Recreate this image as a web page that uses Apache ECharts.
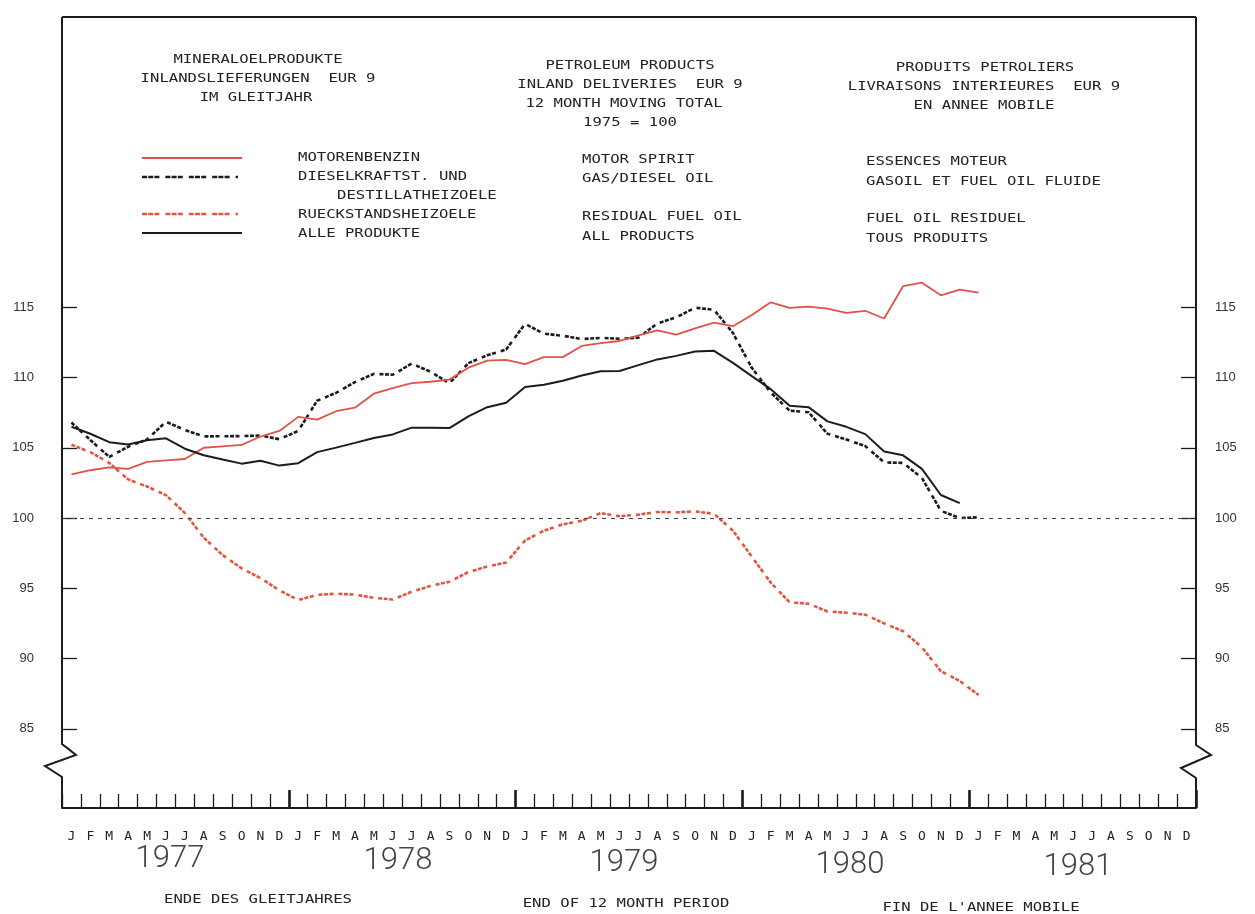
<!DOCTYPE html>
<html><head><meta charset="utf-8">
<script src="https://cdn.jsdelivr.net/npm/echarts@6/dist/echarts.min.js"></script>
<style>html,body{margin:0;padding:0;background:#fff}#c{width:1255px;height:914px}</style>
</head><body><div id="c"></div>
<script>
// ---- data (index 100 = 1975), monthly, 12-month moving totals, EUR 9 ----
const monthLetters = ['J','F','M','A','M','J','J','A','S','O','N','D'];
const years = [1977, 1978, 1979, 1980, 1981];
const yTicks = [85, 90, 95, 100, 105, 110, 115];

// Motorenbenzin / Motor spirit / Essences moteur  (Jan 1977 - Jan 1981)
const motorSpirit = [103.1, 103.4, 103.6, 103.5, 104.0, 104.1, 104.2, 105.0, 105.1, 105.2, 105.8, 106.2,
  107.2, 107.0, 107.6, 107.85, 108.85, 109.25, 109.6, 109.7, 109.85, 110.7, 111.2, 111.25,
  110.95, 111.45, 111.45, 112.25, 112.45, 112.6, 113.0, 113.35, 113.05, 113.5, 113.9, 113.65,
  114.45, 115.35, 114.95, 115.05, 114.9, 114.6, 114.75, 114.2, 116.5, 116.75, 115.85, 116.25,
  116.05];
// Dieselkraftst. und Destillatheizoele / Gas/diesel oil
const gasDieselOil = [106.8, 105.55, 104.35, 105.07, 105.59, 106.85, 106.27, 105.81, 105.82, 105.83, 105.87, 105.61,
  106.2, 108.35, 108.91, 109.67, 110.26, 110.2, 110.99, 110.41, 109.59, 111.02, 111.58, 111.99,
  113.82, 113.12, 112.97, 112.74, 112.82, 112.76, 112.84, 113.85, 114.28, 114.97, 114.82, 113.17,
  110.69, 108.93, 107.64, 107.53, 106.0, 105.59, 105.12, 103.96, 103.92, 102.86, 100.51, 100.0,
  100.05];
// Rueckstandsheizoele / Residual fuel oil
const residualFuelOil = [105.22, 104.69, 103.92, 102.75, 102.24, 101.63, 100.36, 98.6, 97.36, 96.42, 95.72, 94.86,
  94.16, 94.53, 94.61, 94.55, 94.32, 94.2, 94.75, 95.17, 95.47, 96.15, 96.55, 96.83,
  98.4, 99.1, 99.55, 99.8, 100.35, 100.13, 100.24, 100.43, 100.4, 100.47, 100.3, 99.1,
  97.25, 95.4, 94.0, 93.9, 93.35, 93.26, 93.12, 92.5, 91.94, 90.8, 89.1, 88.4,
  87.4];
// Alle Produkte / All products
const allProducts = [106.5, 106.0, 105.4, 105.23, 105.54, 105.67, 104.93, 104.47, 104.16, 103.87, 104.07, 103.73,
  103.9, 104.69, 105.01, 105.35, 105.7, 105.95, 106.43, 106.42, 106.4, 107.24, 107.89, 108.21,
  109.33, 109.48, 109.77, 110.14, 110.45, 110.46, 110.88, 111.29, 111.54, 111.85, 111.9, 111.04,
  110.1, 109.17, 107.99, 107.89, 106.88, 106.49, 105.97, 104.74, 104.46, 103.5, 101.64, 101.06];

const categories = [];
years.forEach(y => monthLetters.forEach((m, i) => categories.push(y + '-' + (i + 1))));

const RED = '#e0524a', RED2 = '#e2553f', BLK = '#1c1c1c';
const DASH = [4, 1.5, 4, 1.5, 4, 5];
const LDASH = [5, 1.2, 5, 1.2, 5, 6];
const MONO = '"DejaVu Sans Mono", monospace';

function txt(str, x, y, align) {
  return { type: 'text', x: x, y: y, scaleX: 1.2, z: 20,
    style: { text: str, fontFamily: MONO, fontSize: 13, fill: '#222',
      align: align, verticalAlign: 'middle', textAlign: align, textVerticalAlign: 'middle' } };
}
function year(str, x, y) {
  return { type: 'text', x: x, y: y, z: 20,
    style: { text: str, fontFamily: 'Roboto, "DejaVu Sans", sans-serif', fontWeight: 300, fontSize: 31, fill: '#444',
      align: 'center', verticalAlign: 'middle', textAlign: 'center', textVerticalAlign: 'middle' } };
}
function seg(x1, y1, x2, y2, color, w, dash) {
  return { type: 'line', z: 20, shape: { x1: x1, y1: y1, x2: x2, y2: y2 },
    style: { stroke: color, lineWidth: w, lineDash: dash || null } };
}
function poly(pts) {
  return { type: 'polyline', z: 20, shape: { points: pts }, style: { stroke: BLK, lineWidth: 2, fill: null } };
}

const graphics = [
  // frame with axis breaks
  poly([[62, 17], [1196, 17]]),
  poly([[62, 17], [62, 744], [76, 755], [45, 766], [62, 777], [62, 808]]),
  poly([[1196, 17], [1196, 745], [1211, 755], [1181, 768], [1196, 778], [1196, 808]]),
  // titles
  txt('MINERALOELPRODUKTE', 258, 60, 'center'),
  txt('INLANDSLIEFERUNGEN  EUR 9', 258, 79, 'center'),
  txt('IM GLEITJAHR', 256, 98, 'center'),
  txt('PETROLEUM PRODUCTS', 630, 66, 'center'),
  txt('INLAND DELIVERIES  EUR 9', 630, 85, 'center'),
  txt('12 MONTH MOVING TOTAL', 624, 104, 'center'),
  txt('1975 = 100', 630, 123, 'center'),
  txt('PRODUITS PETROLIERS', 985, 68, 'center'),
  txt('LIVRAISONS INTERIEURES  EUR 9', 984, 87, 'center'),
  txt('EN ANNEE MOBILE', 984, 106, 'center'),
  // legend
  seg(142, 158, 242, 158, RED, 2),
  seg(142, 177, 238, 177, BLK, 2.6, LDASH),
  seg(142, 214, 238, 214, RED2, 2.6, LDASH),
  seg(142, 233, 242, 233, BLK, 2),
  txt('MOTORENBENZIN', 298, 158, 'left'),
  txt('DIESELKRAFTST. UND', 298, 177, 'left'),
  txt('DESTILLATHEIZOELE', 337, 196, 'left'),
  txt('RUECKSTANDSHEIZOELE', 298, 215, 'left'),
  txt('ALLE PRODUKTE', 298, 234, 'left'),
  txt('MOTOR SPIRIT', 582, 160, 'left'),
  txt('GAS/DIESEL OIL', 582, 179, 'left'),
  txt('RESIDUAL FUEL OIL', 582, 217, 'left'),
  txt('ALL PRODUCTS', 582, 237, 'left'),
  txt('ESSENCES MOTEUR', 866, 162, 'left'),
  txt('GASOIL ET FUEL OIL FLUIDE', 866, 182, 'left'),
  txt('FUEL OIL RESIDUEL', 866, 219, 'left'),
  txt('TOUS PRODUITS', 866, 239, 'left'),
  // years
  year(String(years[0]), 170, 859),
  year(String(years[1]), 398, 861),
  year(String(years[2]), 624, 863),
  year(String(years[3]), 850, 865),
  year(String(years[4]), 1078, 867),
  // footer
  txt('ENDE DES GLEITJAHRES', 258, 900, 'center'),
  txt('END OF 12 MONTH PERIOD', 626, 904, 'center'),
  txt("FIN DE L'ANNEE MOBILE", 981, 908, 'center')
];

const chart = echarts.init(document.getElementById('c'), null, { renderer: 'canvas' });
const yCommon = {
  type: 'value', min: 79.36, max: 135.66, scale: true,
  axisLine: { show: false }, splitLine: { show: false },
  axisTick: { show: true, inside: true, length: 15, customValues: yTicks, lineStyle: { color: BLK, width: 1.3 } },
  axisLabel: { customValues: yTicks, fontFamily: '"Liberation Sans", Arial, sans-serif', fontSize: 13, color: '#333' }
};
chart.setOption({
  animation: false,
  backgroundColor: '#fff',
  grid: { left: 62, right: 59, top: 17, bottom: 106, containLabel: false },
  xAxis: [{
    type: 'category', data: categories, boundaryGap: true, position: 'bottom',
    axisLine: { show: true, lineStyle: { color: BLK, width: 2 } },
    axisTick: { show: true, inside: true, length: 14, interval: 0, lineStyle: { color: BLK, width: 1.3 } },
    axisLabel: { interval: 0, margin: 22, fontFamily: MONO, fontSize: 13, color: '#222',
      formatter: v => monthLetters[+v.split('-')[1] - 1] }
  }, {
    type: 'category', data: categories, boundaryGap: true, position: 'bottom',
    axisLine: { show: false },
    axisTick: { show: true, inside: true, length: 18, interval: (idx) => idx % 12 === 0 && idx > 0,
      lineStyle: { color: BLK, width: 2.6 } },
    axisLabel: { show: false }
  }],
  yAxis: [
    Object.assign({}, yCommon, { position: 'left', axisLabel: Object.assign({}, yCommon.axisLabel, { margin: 28 }) }),
    Object.assign({}, yCommon, { position: 'right', axisLabel: Object.assign({}, yCommon.axisLabel, { margin: 19 }) })
  ],
  series: [
    { name: 'MOTORENBENZIN', type: 'line', data: motorSpirit, symbol: 'none', z: 5,
      lineStyle: { color: RED, width: 1.8 },
      markLine: { silent: true, symbol: ['none', 'none'], label: { show: false },
        lineStyle: { type: [4, 5], color: '#444', width: 1 }, data: [{ yAxis: 100 }] } },
    { name: 'DIESELKRAFTST. UND DESTILLATHEIZOELE', type: 'line', data: gasDieselOil, symbol: 'none', z: 4,
      lineStyle: { color: BLK, width: 2.6, type: DASH } },
    { name: 'RUECKSTANDSHEIZOELE', type: 'line', data: residualFuelOil, symbol: 'none', z: 4,
      lineStyle: { color: RED2, width: 2.6, type: DASH } },
    { name: 'ALLE PRODUKTE', type: 'line', data: allProducts, symbol: 'none', z: 6,
      lineStyle: { color: BLK, width: 2 } }
  ],
  graphic: graphics
});
</script>
</body></html>
